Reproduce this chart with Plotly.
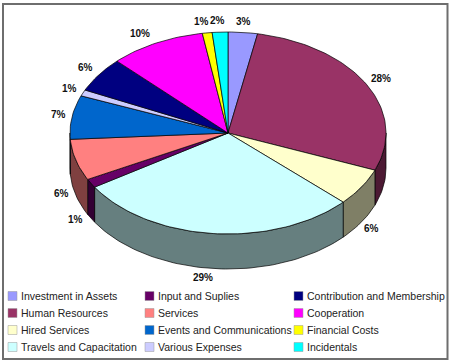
import math
import plotly.graph_objects as go

categories = ["Investment in Assets", "Human Resources", "Hired Services", "Travels and Capacitation",
              "Input and Suplies", "Services", "Events and Communications", "Various Expenses",
              "Contribution and Membership", "Cooperation", "Financial Costs", "Incidentals"]
values = [3.0, 28.0, 6.0, 29.0, 1.4, 6.6, 7.0, 1.0, 5.6, 9.8, 1.0, 1.6]
labels = ["3%", "28%", "6%", "29%", "1%", "6%", "7%", "1%", "6%", "10%", "1%", "2%"]
colors = ["#9999FF", "#993366", "#FFFFCC", "#CCFFFF", "#660066", "#FF8080",
          "#0066CC", "#CCCCFF", "#000080", "#FF00FF", "#FFFF00", "#00FFFF"]

W, H = 450, 363
CX, CY, RX, RY, DEPTH = 228, 133, 158, 101, 35
LABEL_PX = [(243, 21), (381, 78), (371, 228), (203, 277), (75, 219), (61, 193),
            (58, 114), (69, 88), (85, 67), (140, 33), (201, 21), (217, 20)]
LEGEND_COLS = [8, 145, 294]
LEGEND_ROWS = [296, 313, 330, 347]


def px(a):
    return CX + RX * math.sin(a)


def py(a, d=0):
    return CY - RY * math.cos(a) + d


def arc(a0, a1):
    n = max(2, int(abs(a1 - a0) / math.radians(1.5)) + 2)
    return [a0 + (a1 - a0) * i / (n - 1) for i in range(n)]


def dark(c):
    return "#%02X%02X%02X" % tuple(int(int(c[i:i + 2], 16) * 0.5) for i in (1, 3, 5))


total = sum(values)
bounds = [0.0]
for v in values:
    bounds.append(bounds[-1] + v / total * 2 * math.pi)

fig = go.Figure()
line = dict(color="#000000", width=0.7)

# side walls of the front half
for i, c in enumerate(colors):
    a0, a1 = max(bounds[i], math.pi / 2), min(bounds[i + 1], 3 * math.pi / 2)
    if a1 <= a0:
        continue
    pts = arc(a0, a1)
    xs = [px(a) for a in pts] + [px(a) for a in reversed(pts)]
    ys = [py(a) for a in pts] + [py(a, DEPTH) for a in reversed(pts)]
    fig.add_trace(go.Scatter(x=xs + xs[:1], y=ys + ys[:1], mode="lines", fill="toself",
                             fillcolor=dark(c), line=line, hoverinfo="skip", showlegend=False))

# top faces
for i, c in enumerate(colors):
    pts = arc(bounds[i], bounds[i + 1])
    xs = [CX] + [px(a) for a in pts] + [CX]
    ys = [CY] + [py(a) for a in pts] + [CY]
    fig.add_trace(go.Scatter(x=xs, y=ys, mode="lines", fill="toself", fillcolor=c,
                             line=line, name=categories[i], showlegend=False))

ann = []
for t, (x, y) in zip(labels, LABEL_PX):
    ann.append(dict(x=x, y=y, xref="x", yref="y", text=t, showarrow=False, xanchor="center",
                    yanchor="middle", font=dict(family="Liberation Sans", size=10, color="#111111", weight="bold")))

shapes = [dict(type="rect", xref="x", yref="y", x0=3, y0=4, x1=447.5, y1=359,
               line=dict(color="#6E6E6E", width=2), fillcolor="rgba(0,0,0,0)", layer="below")]
for col in range(3):
    for row in range(4):
        i = col * 4 + row
        x, y = LEGEND_COLS[col], LEGEND_ROWS[row]
        shapes.append(dict(type="rect", xref="x", yref="y", x0=x, x1=x + 9, y0=y - 4.5, y1=y + 4.5,
                           fillcolor=colors[i], line=dict(color="#9A9A9A", width=0.5)))
        ann.append(dict(x=x + 11, y=y, xref="x", yref="y", text=categories[i], showarrow=False,
                        xanchor="left", yanchor="middle",
                        font=dict(family="Liberation Sans", size=10.5, color="#222222")))

fig.update_layout(width=W, height=H, margin=dict(l=0, r=0, t=0, b=0), autosize=False,
                  paper_bgcolor="white", plot_bgcolor="white", showlegend=False,
                  xaxis=dict(range=[0, W], visible=False, fixedrange=True),
                  yaxis=dict(range=[H, 0], visible=False, fixedrange=True),
                  shapes=shapes, annotations=ann)
fig.write_html("out.html", config=dict(displayModeBar=False),
               post_script="document.body.style.margin='0';document.body.style.overflow='hidden';")
